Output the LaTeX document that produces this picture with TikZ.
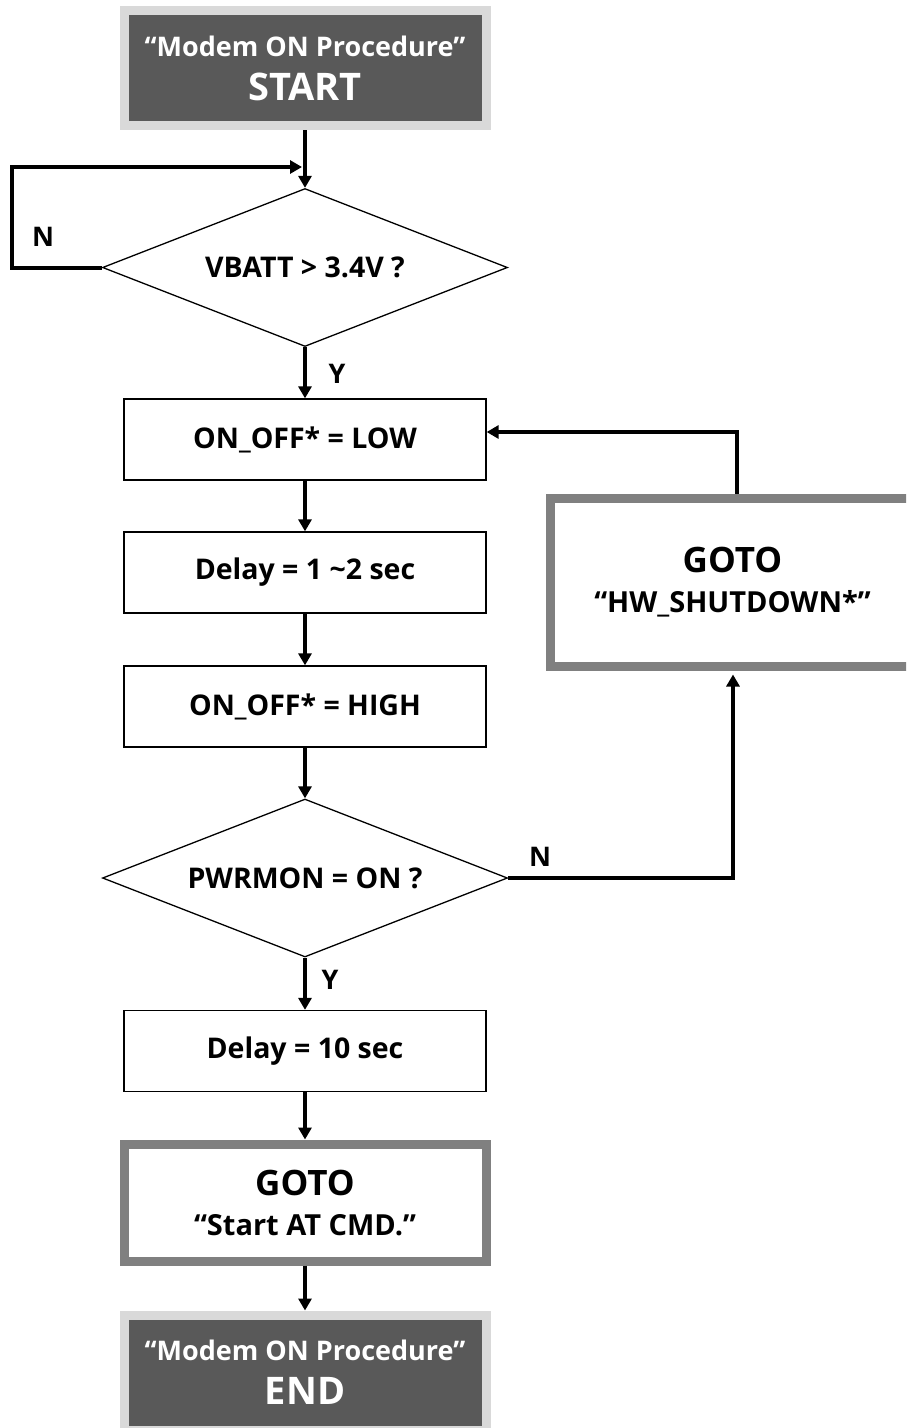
\documentclass[tikz,border=0pt]{standalone}
\usepackage{fontspec}
\setmainfont{Open Sans}
\usetikzlibrary{arrows.meta,shapes.geometric}
\definecolor{darkfill}{HTML}{595959}
\definecolor{lightframe}{HTML}{D9D9D9}
\definecolor{midframe}{HTML}{808080}
\begin{document}
\begin{tikzpicture}[x=1pt,y=-1pt,
  termbox/.style={draw=lightframe,line width=9pt,fill=darkfill,text=white,minimum width=362pt,minimum height=115pt,inner sep=0pt,align=center,font=\fontsize{27}{44}\selectfont\bfseries},
  procbox/.style={draw=black,line width=1.3pt,fill=white,minimum width=362pt,minimum height=81pt,inner sep=0pt,font=\fontsize{28.5}{32}\selectfont\bfseries},
  gotobox/.style={draw=midframe,line width=9pt,fill=white,minimum width=362pt,minimum height=117pt,inner sep=0pt,align=center,font=\fontsize{29}{40}\selectfont\bfseries},
  decbox/.style={diamond,draw=black,line width=1.3pt,minimum width=405pt,minimum height=158pt,aspect=2.56,inner sep=0pt,font=\fontsize{28.5}{32}\selectfont\bfseries},
  conn/.style={line width=4pt,-{Triangle[width=13pt,length=12pt]}},
  lbl/.style={font=\fontsize{27}{30}\selectfont\bfseries}]
\useasboundingbox (0,0) rectangle (906,1428);
\clip (0,0) rectangle (906,1428);

\node[termbox] (start) at (305,68) {“Modem ON Procedure”\\{\fontsize{38}{44}\selectfont START}};
\node[decbox] (d1) at (305,267.5) {VBATT > 3.4V ?};
\node[procbox] (b1) at (305,439.5) {ON\_OFF* = LOW};
\node[procbox] (b2) at (305,572.5) {Delay = 1 \textasciitilde 2 sec};
\node[procbox] (b3) at (305,706.5) {ON\_OFF* = HIGH};
\node[decbox] (d2) at (305,878) {PWRMON = ON ?};
\node[procbox] (b4) at (305,1051) {Delay = 10 sec};
\node[gotobox] (g1) at (305,1202.5) {{\fontsize{35}{40}\selectfont GOTO}\\“Start AT CMD.”};
\node[termbox] (end) at (305,1372.5) {“Modem ON Procedure”\\{\fontsize{38}{44}\selectfont END}};
\node[gotobox,minimum width=365pt,minimum height=168pt] (g2) at (732.5,582) {{\fontsize{35}{40}\selectfont GOTO}\\“HW\_SHUTDOWN*”};

\coordinate (lp1) at (12,267.5);
\coordinate (lp2) at (12,167);
\coordinate (lp3) at (302,167);
\coordinate (rt1) at (733,878);
\coordinate (up1) at (737,432);

\draw[conn] (start.south) -- (d1.north);
\draw[conn] (d1.west) -- (lp1) -- (lp2) -- (lp3);
\draw[conn] (d1.south) -- (b1.north);
\draw[conn] (b1.south) -- (b2.north);
\draw[conn] (b2.south) -- (b3.north);
\draw[conn] (b3.south) -- (d2.north);
\draw[conn] (d2.south) -- (b4.north);
\draw[conn] (b4.south) -- (g1.north);
\draw[conn] (g1.south) -- (end.north);
\draw[conn,shorten >=4pt] (d2.east) -- (rt1) -- (g2.south -| rt1);
\draw[conn] (g2.north -| up1) -- (up1) -- (up1 -| b1.east);

\node[lbl] (n1) at (43,237) {N};
\node[lbl] (y1) at (337,374) {Y};
\node[lbl] (n2) at (540,857) {N};
\node[lbl] (y2) at (330,980) {Y};
\end{tikzpicture}
\end{document}
